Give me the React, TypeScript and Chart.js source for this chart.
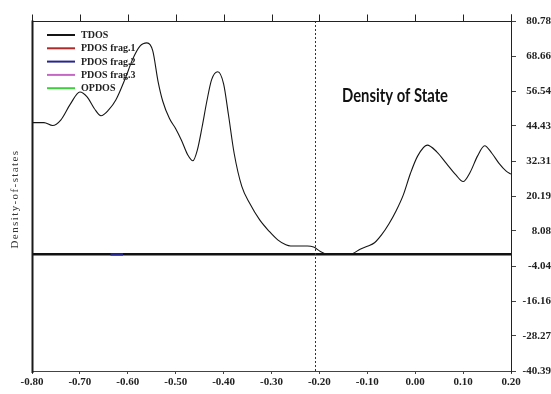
import React, { useEffect, useRef } from "react";
import { Chart, registerables } from "chart.js";

Chart.register(...registerables);

// ---- data ----
const energy = [
  -0.8, -0.775, -0.757, -0.74, -0.72, -0.7, -0.685, -0.67, -0.656, -0.64,
  -0.625, -0.605, -0.59, -0.575, -0.56, -0.548, -0.537, -0.527, -0.513, -0.5,
  -0.488, -0.475, -0.464, -0.455, -0.445, -0.435, -0.425, -0.412, -0.4, -0.39,
  -0.378, -0.362, -0.345, -0.325, -0.305, -0.287, -0.27, -0.26, -0.225, -0.212,
  -0.198, -0.184, -0.165, -0.14, -0.13, -0.115, -0.1, -0.085, -0.07, -0.055,
  -0.04, -0.025, -0.01, 0.005, 0.025, 0.045, 0.065, 0.085, 0.1, 0.115,
  0.13, 0.145, 0.16, 0.175, 0.19, 0.2,
];
const tdos = [
  45.6, 45.6, 44.6, 46.5, 52.0, 56.2, 54.5, 50.5, 48.0, 50.0,
  53.4, 61.0, 67.5, 72.0, 73.2, 70.5, 60.0, 53.0, 47.0, 43.5,
  39.5, 34.5, 32.4, 36.0, 44.0, 53.0, 60.5, 63.2, 59.0, 48.5,
  35.0, 23.5, 17.5, 12.0, 8.0, 5.0, 3.3, 2.9, 2.9, 2.5,
  1.0, 0.1, 0, 0, 0.3, 1.8, 2.8, 4.0, 6.8, 10.5,
  15.0, 20.5, 28.0, 34.0, 37.8, 35.5, 31.5, 27.5, 25.2, 28.5,
  34.0, 37.6, 35.0, 31.5, 28.8, 27.8,
];
const frag1Energy: number[] = [];
const frag1Values: number[] = [];
const frag2Energy = [-0.636, -0.61];
const frag2Values = [0, 0];
const frag3Energy: number[] = [];
const frag3Values: number[] = [];
const opdosEnergy: number[] = [];
const opdosValues: number[] = [];

const seriesNames = ["TDOS", "PDOS frag.1", "PDOS frag.2", "PDOS frag.3", "OPDOS"];
const seriesColors = ["#151515", "#b02a2a", "#25258f", "#c468c4", "#3fcf3f"];

const xTickValues = [-0.8, -0.7, -0.6, -0.5, -0.4, -0.3, -0.2, -0.1, 0.0, 0.1, 0.2];
const yTickLabels = [
  "80.78", "68.66", "56.54", "44.43", "32.31", "20.19",
  "8.08", "-4.04", "-16.16", "-28.27", "-40.39",
];
const yTickValues = yTickLabels.map((s) => parseFloat(s));
const fermiLevel = -0.21;
const chartTitle = "Density of State";
const yAxisTitle = "Density-of-states";

const toPoints = (xs: number[], ys: number[]) => xs.map((x, i) => ({ x, y: ys[i] }));

const decorPlugin = {
  id: "decor",
  beforeDatasetsDraw(chart: any) {
    const { ctx, chartArea: a, scales } = chart;
    const xs = scales.x;
    const ys = scales.y;
    ctx.save();
    const y0 = ys.getPixelForValue(0);
    ctx.strokeStyle = "#111";
    ctx.lineWidth = 2.5;
    ctx.beginPath();
    ctx.moveTo(a.left, y0);
    ctx.lineTo(a.right, y0);
    ctx.stroke();
    const xf = Math.round(xs.getPixelForValue(fermiLevel)) + 0.5;
    ctx.setLineDash([2, 2]);
    ctx.lineWidth = 1;
    ctx.strokeStyle = "#333";
    ctx.beginPath();
    ctx.moveTo(xf, a.top);
    ctx.lineTo(xf, a.bottom);
    ctx.stroke();
    ctx.restore();
  },
  afterDraw(chart: any) {
    const { ctx, chartArea: a, scales } = chart;
    const xs = scales.x;
    ctx.save();
    ctx.strokeStyle = "#222";
    ctx.lineWidth = 1;
    const top = Math.round(a.top) + 0.5;
    ctx.beginPath();
    ctx.moveTo(a.left, top);
    ctx.lineTo(a.right, top);
    ctx.stroke();
    xTickValues.forEach((v) => {
      const px = Math.round(xs.getPixelForValue(v)) + 0.5;
      ctx.beginPath();
      ctx.moveTo(px, top - 7);
      ctx.lineTo(px, top);
      ctx.stroke();
    });
    const rx = Math.round(a.right) + 0.5;
    ctx.beginPath();
    ctx.moveTo(rx, top - 7);
    ctx.lineTo(rx, a.bottom + 2);
    ctx.stroke();
    ctx.strokeStyle = "#1a1a1a";
    ctx.lineWidth = 2;
    ctx.beginPath();
    ctx.moveTo(a.left + 0.5, top - 1);
    ctx.lineTo(a.left + 0.5, a.bottom + 2);
    ctx.stroke();

    // legend
    ctx.font = 'bold 10px "Liberation Serif"';
    ctx.textBaseline = "middle";
    ctx.textAlign = "left";
    seriesNames.forEach((name, i) => {
      const ly = 35 + i * 13.3;
      ctx.strokeStyle = seriesColors[i];
      ctx.lineWidth = 2;
      ctx.beginPath();
      ctx.moveTo(47, ly);
      ctx.lineTo(75, ly);
      ctx.stroke();
      ctx.fillStyle = "#222";
      ctx.fillText(name, 81, ly + 0.5);
    });

    // chart title
    ctx.font = "bold 19px Lato";
    ctx.fillStyle = "#111";
    ctx.textBaseline = "alphabetic";
    const w = ctx.measureText(chartTitle).width;
    ctx.save();
    ctx.translate(342, 102);
    ctx.scale(106 / w, 1);
    ctx.fillText(chartTitle, 0, 0);
    ctx.restore();

    // y axis title
    ctx.save();
    ctx.translate(15, 199);
    ctx.rotate(-Math.PI / 2);
    ctx.font = '11px "Liberation Serif"';
    (ctx as any).letterSpacing = "1.4px";
    ctx.textAlign = "center";
    ctx.textBaseline = "middle";
    ctx.fillStyle = "#333";
    ctx.fillText(yAxisTitle, 0, 0);
    ctx.restore();

    ctx.restore();
  },
};

export default function App() {
  const canvasRef = useRef<HTMLCanvasElement | null>(null);

  useEffect(() => {
    if (!canvasRef.current) return;
    const tickFont = { family: '"Liberation Serif"', size: 11, weight: "bold" as const };
    const chart = new Chart(canvasRef.current, {
      type: "line",
      data: {
        datasets: [
          { label: seriesNames[0], data: toPoints(energy, tdos), borderColor: seriesColors[0], borderWidth: 1.1 },
          { label: seriesNames[1], data: toPoints(frag1Energy, frag1Values), borderColor: seriesColors[1], borderWidth: 2 },
          { label: seriesNames[2], data: toPoints(frag2Energy, frag2Values), borderColor: seriesColors[2], borderWidth: 2.5 },
          { label: seriesNames[3], data: toPoints(frag3Energy, frag3Values), borderColor: seriesColors[3], borderWidth: 2 },
          { label: seriesNames[4], data: toPoints(opdosEnergy, opdosValues), borderColor: seriesColors[4], borderWidth: 2 },
        ].map((d) => ({
          ...d,
          pointRadius: 0,
          fill: false,
          cubicInterpolationMode: "monotone" as const,
        })),
      },
      options: {
        animation: false,
        responsive: false,
        devicePixelRatio: 1,
        layout: { padding: { left: 32, top: 21, right: 0, bottom: 0 } },
        plugins: { legend: { display: false }, tooltip: { enabled: false } },
        scales: {
          x: {
            type: "linear",
            position: "bottom",
            min: -0.8,
            max: 0.2,
            afterBuildTicks: (s: any) => {
              s.ticks = xTickValues.map((v) => ({ value: v }));
            },
            afterFit: (s: any) => {
              s.height = 23;
            },
            ticks: {
              autoSkip: false,
              maxRotation: 0,
              padding: 2,
              font: tickFont,
              color: "#222",
              callback: (v: any) => Number(v).toFixed(2),
            },
            grid: { drawOnChartArea: false, drawTicks: true, tickLength: 3, color: "#444" },
            border: { display: true, color: "#444", width: 1 },
          },
          y: {
            type: "linear",
            position: "right",
            min: yTickValues[yTickValues.length - 1],
            max: yTickValues[0],
            afterBuildTicks: (s: any) => {
              s.ticks = yTickValues.map((v) => ({ value: v }));
            },
            afterFit: (s: any) => {
              s.width = 40;
            },
            ticks: {
              autoSkip: false,
              padding: 2,
              crossAlign: "far",
              font: tickFont,
              color: "#222",
              callback: (_v: any, i: number) => yTickLabels[i],
            },
            grid: { drawOnChartArea: false, drawTicks: true, tickLength: 5, color: "#444" },
            border: { display: false },
          },
        },
      },
      plugins: [decorPlugin],
    });
    return () => chart.destroy();
  }, []);

  return (
    <div style={{ position: "fixed", left: 0, top: 0, width: 551, height: 394, background: "#fff" }}>
      <canvas ref={canvasRef} width={551} height={394} style={{ display: "block" }} />
    </div>
  );
}
